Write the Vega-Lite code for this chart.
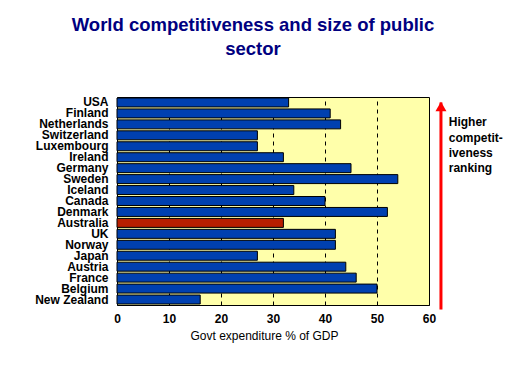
{
  "$schema": "https://vega.github.io/schema/vega-lite/v6.json",
  "width": 312,
  "height": 208,
  "autosize": {"type": "none"},
  "padding": {"left": 117, "top": 97, "right": 82, "bottom": 79},
  "background": "white",
  "title": {
    "text": ["World competitiveness and size of public", "sector"],
    "fontSize": 18.5,
    "font": "Liberation Sans",
    "fontWeight": "bold",
    "color": "#000080",
    "lineHeight": 24,
    "anchor": "middle",
    "dx": -20,
    "offset": 37
  },
  "config": {
    "view": {"fill": "#FFFFAA", "stroke": "black", "strokeWidth": 1}
  },
  "data": {
    "values": [
      {"country": "USA", "value": 33},
      {"country": "Finland", "value": 41},
      {"country": "Netherlands", "value": 43},
      {"country": "Switzerland", "value": 27},
      {"country": "Luxembourg", "value": 27},
      {"country": "Ireland", "value": 32},
      {"country": "Germany", "value": 45},
      {"country": "Sweden", "value": 54},
      {"country": "Iceland", "value": 34},
      {"country": "Canada", "value": 40},
      {"country": "Denmark", "value": 52},
      {"country": "Australia", "value": 32},
      {"country": "UK", "value": 42},
      {"country": "Norway", "value": 42},
      {"country": "Japan", "value": 27},
      {"country": "Austria", "value": 44},
      {"country": "France", "value": 46},
      {"country": "Belgium", "value": 50},
      {"country": "New Zealand", "value": 16}
    ]
  },
  "layer": [
    {
      "mark": {"type": "bar", "stroke": "black", "strokeWidth": 1},
      "encoding": {
        "y": {
          "field": "country",
          "type": "nominal",
          "sort": null,
          "scale": {"paddingInner": 0.18, "paddingOuter": 0.09},
          "axis": {
            "title": null,
            "grid": false,
            "ticks": false,
            "domain": false,
            "labelFont": "Liberation Sans",
            "labelFontWeight": "bold",
            "labelFontSize": 12,
            "labelColor": "black",
            "labelPadding": 9
          }
        },
        "x": {
          "field": "value",
          "type": "quantitative",
          "scale": {"domain": [0, 60], "nice": false},
          "axis": {
            "values": [0, 10, 20, 30, 40, 50, 60],
            "title": "Govt expenditure % of GDP",
            "grid": true,
            "gridColor": "black",
            "gridDash": [4, 4],
            "gridWidth": 1,
            "gridOpacity": 1,
            "ticks": false,
            "domain": false,
            "labelFlush": false,
            "labelFont": "Liberation Sans",
            "labelFontWeight": "bold",
            "labelFontSize": 12,
            "labelColor": "black",
            "labelPadding": 8,
            "titleFont": "Liberation Sans",
            "titleFontWeight": "normal",
            "titleFontSize": 12,
            "titleColor": "black",
            "titlePadding": 6,
            "titleX": 147
          }
        },
        "color": {
          "condition": {"test": "datum.country === 'Australia'", "value": "#B81E00"},
          "value": "#0040B0"
        }
      }
    },
    {
      "data": {"values": [{}]},
      "mark": {"type": "rule", "color": "#FF0000", "strokeWidth": 3, "y2Offset": 10},
      "encoding": {
        "x": {"datum": 62.3},
        "y": {"datum": "USA"},
        "y2": {"datum": "New Zealand"}
      }
    },
    {
      "data": {"values": [{}]},
      "mark": {"type": "point", "shape": "triangle-up", "filled": true, "color": "#FF0000", "size": 121, "opacity": 1, "yOffset": 4},
      "encoding": {
        "x": {"datum": 62.3},
        "y": {"datum": "USA"}
      }
    },
    {
      "data": {"values": [{}]},
      "mark": {"type": "text", "align": "left", "baseline": "alphabetic", "fontSize": 12, "fontWeight": "bold", "font": "Liberation Sans", "color": "black", "lineHeight": 15.3, "dy": 2},
      "encoding": {
        "x": {"datum": 63.8},
        "y": {"datum": "Netherlands"},
        "text": {"value": ["Higher", "competit-", "iveness", "ranking"]}
      }
    }
  ]
}
